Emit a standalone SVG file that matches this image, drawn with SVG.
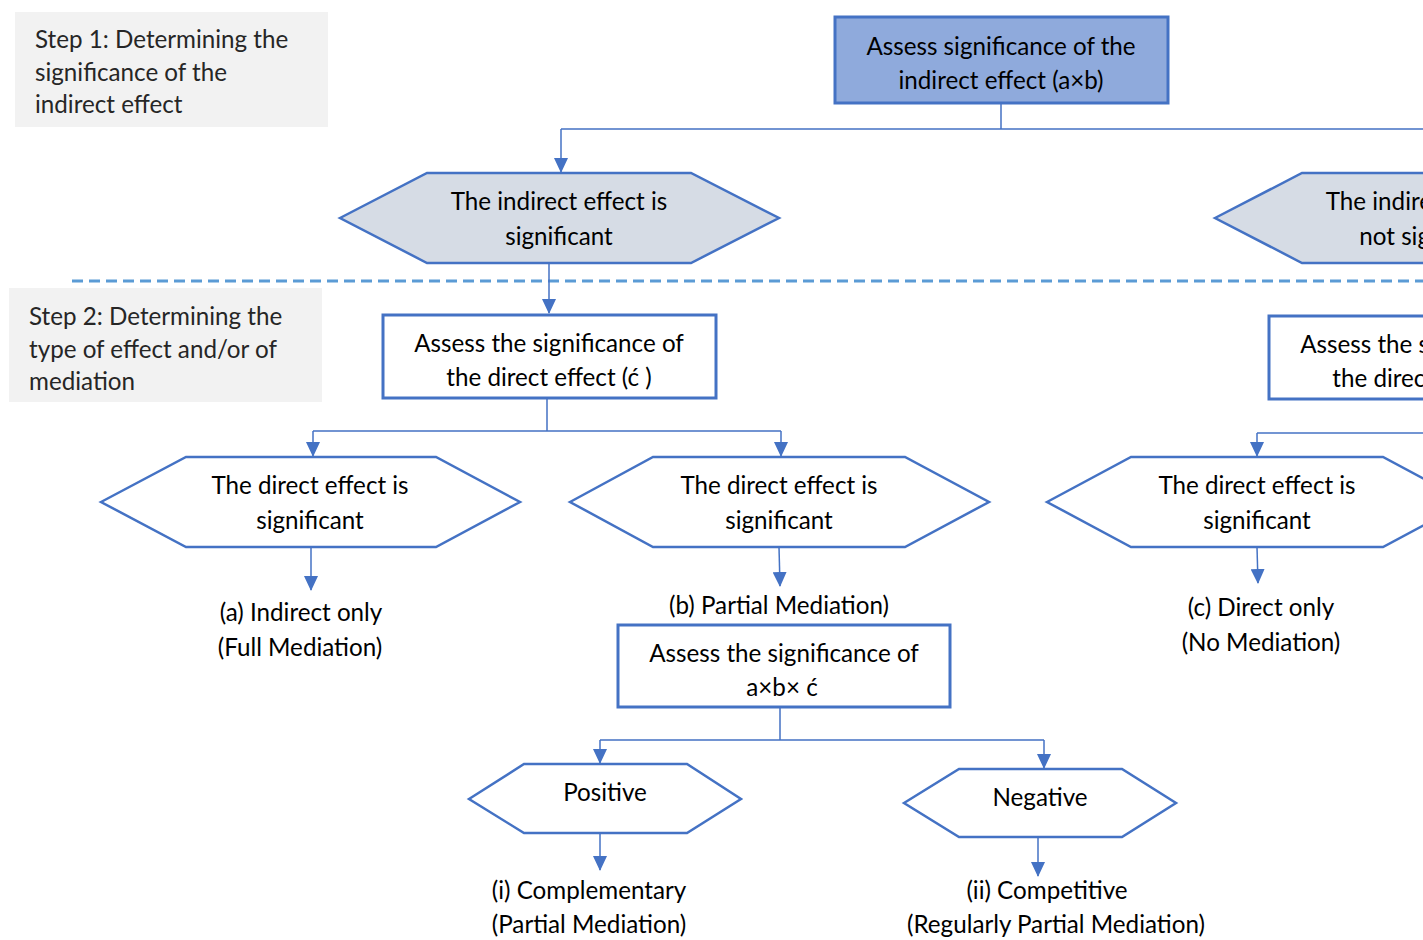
<svg xmlns="http://www.w3.org/2000/svg" width="1423" height="940" viewBox="0 0 1423 940">
<style>
text{font-family:Lato,"Open Sans","Liberation Sans",sans-serif;font-size:24.2px;fill:#000}
.c{text-anchor:middle}
.step{fill:#262626}
.lbl{fill:#f2f2f2;stroke:none}
.box{fill:#fff;stroke:#4472c4;stroke-width:3}
.top{fill:#8faadc;stroke:#4472c4;stroke-width:3}
.hexg{fill:#d6dce5;stroke:#4472c4;stroke-width:2.5}
.hex{fill:#fff;stroke:#4472c4;stroke-width:2.5}
.ln{fill:none;stroke:#4472c4;stroke-width:1.5}
.ar{fill:none;stroke:#4472c4;stroke-width:1.5;marker-end:url(#ah)}
.dash{stroke:#5b9bd5;stroke-width:3;stroke-dasharray:11 6;fill:none}
</style>
<defs>
<marker id="ah" markerUnits="userSpaceOnUse" markerWidth="15" markerHeight="14" viewBox="0 0 15 14" refX="14" refY="7" orient="auto">
<path d="M0,0 L15,7 L0,14 Z" fill="#4472c4"/>
</marker>
</defs>

<g id="step1">
<rect class="lbl" x="15" y="12" width="313" height="115"/>
<text class="step" x="35" y="48">Step 1: Determining the</text>
<text class="step" x="35" y="81">significance of the</text>
<text class="step" x="35" y="113">indirect effect</text>
</g>
<g id="step2">
<rect class="lbl" x="9" y="288" width="313" height="114"/>
<text class="step" x="29" y="325">Step 2: Determining the</text>
<text class="step" x="29" y="358">type of effect and/or of</text>
<text class="step" x="29" y="390">mediation</text>
</g>

<path class="dash" d="M72,281 H1423"/>

<g id="connectors">
<path class="ln" d="M1001,103 V129 M561,129 H1423"/>
<path class="ar" d="M561,129 V172"/>
<path class="ar" d="M549,263 V313"/>
<path class="ln" d="M547,398 V431 M313,431 H781"/>
<path class="ar" d="M313,431 V456"/>
<path class="ar" d="M781,431 V456"/>
<path class="ln" d="M1257,433 H1423"/>
<path class="ar" d="M1257,433 V456"/>
<path class="ar" d="M311,547 V590"/>
<path class="ar" d="M779,547 L780,586"/>
<path class="ar" d="M1257,547 L1258,583"/>
<path class="ln" d="M780,707 V740 M600,740 H1044"/>
<path class="ar" d="M600,740 V763"/>
<path class="ar" d="M1044,740 V768"/>
<path class="ar" d="M600,829 V870"/>
<path class="ar" d="M1038,837 V876"/>
</g>

<g id="n-top">
<rect class="top" x="835" y="17" width="333" height="86"/>
<text class="c" x="1001" y="55">Assess significance of the</text>
<text class="c" x="1001" y="89">indirect effect (a×b)</text>
</g>

<g id="n-ind-sig">
<polygon class="hexg" points="340,218 427,173 691,173 779,218 691,263 427,263"/>
<text class="c" x="559" y="210">The indirect effect is</text>
<text class="c" x="559" y="245">significant</text>
</g>

<g id="n-ind-notsig">
<polygon class="hexg" points="1215,218 1302,173 1566,173 1654,218 1566,263 1302,263"/>
<text class="c" x="1434" y="210">The indirect effect is</text>
<text class="c" x="1434" y="245">not significant</text>
</g>

<g id="n-assess-direct">
<rect class="box" x="383" y="315" width="333" height="83"/>
<text class="c" x="549" y="352">Assess the significance of</text>
<text class="c" x="549" y="386">the direct effect (ć )</text>
</g>

<g id="n-assess-direct-2">
<rect class="box" x="1269" y="316" width="333" height="83"/>
<text class="c" x="1435" y="353">Assess the significance of</text>
<text class="c" x="1435" y="387">the direct effect (ć )</text>
</g>

<g id="n-direct-a">
<polygon class="hex" points="101,502 186,457 436,457 520,502 436,547 186,547"/>
<text class="c" x="310" y="494">The direct effect is</text>
<text class="c" x="310" y="529">significant</text>
</g>
<g id="t-a">
<text class="c" x="301" y="621">(a) Indirect only</text>
<text class="c" x="300" y="656">(Full Mediation)</text>
</g>

<g id="n-direct-b">
<polygon class="hex" points="570,502 653,457 905,457 989,502 905,547 653,547"/>
<text class="c" x="779" y="494">The direct effect is</text>
<text class="c" x="779" y="529">significant</text>
</g>
<g id="t-b">
<text class="c" x="779" y="614">(b) Partial Mediation)</text>
</g>

<g id="n-direct-c">
<polygon class="hex" points="1047,502 1131,457 1383,457 1467,502 1383,547 1131,547"/>
<text class="c" x="1257" y="494">The direct effect is</text>
<text class="c" x="1257" y="529">significant</text>
</g>
<g id="t-c">
<text class="c" x="1261" y="616">(c) Direct only</text>
<text class="c" x="1261" y="651">(No Mediation)</text>
</g>

<g id="n-assess-abc">
<rect class="box" x="618" y="625" width="332" height="82"/>
<text class="c" x="784" y="662">Assess the significance of</text>
<text class="c" x="782" y="696">a×b× ć</text>
</g>

<g id="n-positive">
<polygon class="hex" points="469,799 524,764 687,764 741,799 687,833 524,833"/>
<text class="c" x="605" y="801">Positive</text>
</g>
<g id="t-i">
<text class="c" x="589" y="899">(i) Complementary</text>
<text class="c" x="589" y="933">(Partial Mediation)</text>
</g>

<g id="n-negative">
<polygon class="hex" points="904,803 959,769 1122,769 1176,803 1122,837 959,837"/>
<text class="c" x="1040" y="806">Negative</text>
</g>
<g id="t-ii">
<text class="c" x="1047" y="899">(ii) Competitive</text>
<text class="c" x="1056" y="933">(Regularly Partial Mediation)</text>
</g>
</svg>
